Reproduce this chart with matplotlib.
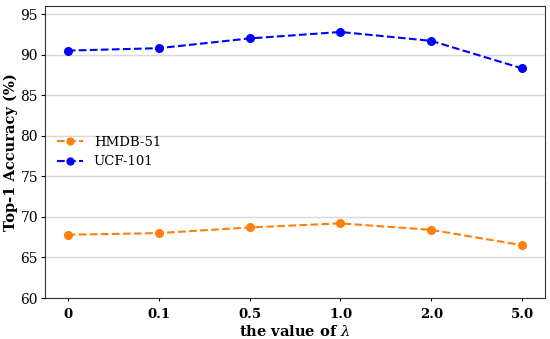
import matplotlib
matplotlib.use("Agg")
import matplotlib.pyplot as plt

categories = ["0", "0.1", "0.5", "1.0", "2.0", "5.0"]
hmdb = [67.8, 68.0, 68.7, 69.2, 68.4, 66.5]
ucf = [90.5, 90.8, 92.0, 92.8, 91.7, 88.3]

plt.rcParams['font.family'] = ['DejaVu Serif']
plt.rcParams['mathtext.fontset'] = 'dejavuserif'

fig = plt.figure(figsize=(5.5, 3.39), dpi=100)
ax = fig.add_axes([45/550, 1-298/339, 500/550, 292/339])
x = list(range(len(categories)))
ax.plot(x, hmdb, linestyle='--', marker='o', color='#ff7f0e', label='HMDB-51', markersize=5.5, linewidth=1.5)
ax.plot(x, ucf, linestyle='--', marker='o', color='blue', label='UCF-101', markersize=5.5, linewidth=1.5)
ax.set_ylim(60, 96)
ax.set_yticks([60, 65, 70, 75, 80, 85, 90, 95])
ax.set_xticks(x)
ax.set_xticklabels(categories, fontweight='bold', fontsize=9.5)
ax.tick_params(axis='y', labelsize=10, length=3, pad=2)
ax.tick_params(axis='x', length=2.5, pad=5)
ax.yaxis.grid(True, color='#d9d9d9', linewidth=1)
ax.set_axisbelow(True)
ax.set_xlabel(r'the value of $\lambda$', fontweight='bold', fontsize=10.5, labelpad=2)
ax.set_ylabel('Top-1 Accuracy (%)', fontweight='bold', fontsize=10.5, labelpad=2)
ax.legend(loc='center left', frameon=False, fontsize=9.5, markerscale=0.9, handlelength=2.0)
for s in ax.spines.values():
    s.set_color('#333333')
fig.savefig('out.png', dpi=100)
